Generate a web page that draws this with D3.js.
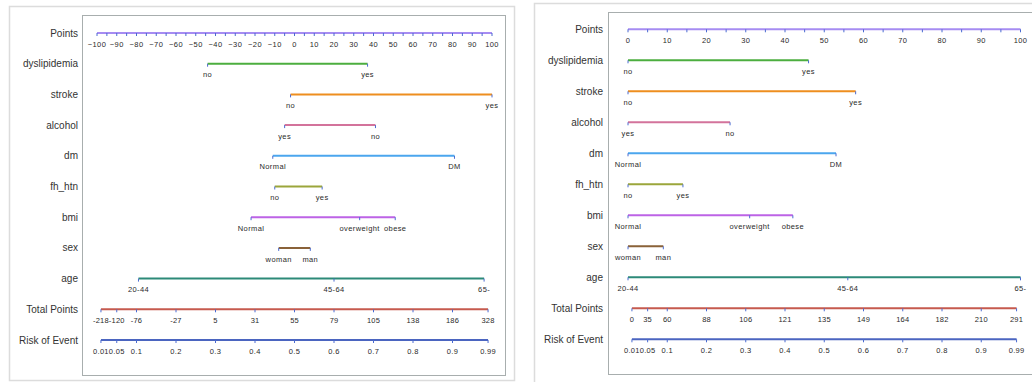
<!DOCTYPE html>
<html><head><meta charset="utf-8">
<script src="https://cdn.jsdelivr.net/npm/d3@7"></script>
<style>body{margin:0;background:#fff}svg{display:block}</style>
</head><body>
<svg id="c" width="1032" height="382"></svg>
<script>
// ---------- data ----------
const rowLabels = ["Points","dyslipidemia","stroke","alcohol","dm","fh_htn","bmi","sex","age","Total Points","Risk of Event"];
const variables = ["dyslipidemia","stroke","alcohol","dm","fh_htn","bmi","sex","age"];
const levelNames = [["no","yes"],["no","yes"],["yes","no"],["Normal","DM"],["no","yes"],["Normal","overweight","obese"],["woman","man"],["20-44","45-64","65-"]];
const leftLevelPoints  = [[-44,37],[-2,100],[-5,41],[-11,81],[-10,14],[-22,33,51],[-8,8],[-79,20,96]];
const rightLevelPoints = [[0,46],[0,58],[0,26],[0,53],[0,14],[0,31,42],[0,9],[0,56,100]];
const leftPointsDomain = [-100,100];
const rightPointsDomain = [0,100];
const riskTicks = [0.01,0.05,0.1,0.2,0.3,0.4,0.5,0.6,0.7,0.8,0.9,0.99];
const riskLabels = ["0.01","0.05","0.1","0.2","0.3","0.4","0.5","0.6","0.7","0.8","0.9","0.99"];
const leftTotalLabels  = ["-218","-120","-76","-27","5","31","55","79","105","138","186","328"];
const rightTotalLabels = ["0","35","60","88","106","121","135","149","164","182","210","291"];

// ---------- styles ----------
const lineColors = ["#a68cf2","#4cae3f","#ee8e1f","#d3739b","#4ba6ee","#9ba63b","#bd63e6","#8a6239","#2c8a78","#c65a4e","#4b65c0"];
const tickColor = "#4a6bd0";
const textColor = "#2a2a2a";

const svg = d3.select("#c");
const fmt = d => String(d).replace(/-/g, "\u2212");

function panel(cfg){
  const g = svg.append("g");
  g.append("rect").attr("x",cfg.outer[0]+0.5).attr("y",cfg.outer[1]+0.5)
    .attr("width",cfg.outer[2]).attr("height",cfg.outer[3])
    .attr("fill","none").attr("stroke","#dcdcdc").attr("stroke-width",1.5);
  g.append("rect").attr("x",cfg.inner[0]+0.5).attr("y",cfg.inner[1]+0.5)
    .attr("width",cfg.inner[2]).attr("height",cfg.inner[3])
    .attr("fill","none").attr("stroke","#a8aeae").attr("stroke-width",1);

  const y = d3.scalePoint().domain(rowLabels).range(cfg.rowRange);
  const x = d3.scaleLinear().domain(cfg.pointsDomain).range(cfg.xRange);
  const xr = d3.scaleLinear().domain([0,1]).range(cfg.xRange);

  // row labels
  g.selectAll("text.row").data(rowLabels).join("text").attr("class","row")
    .attr("x",cfg.labelX).attr("y",d=>y(d)).attr("dy","0.35em")
    .attr("text-anchor","end").attr("font-family","Liberation Sans, Arial, sans-serif")
    .attr("font-size",10).attr("fill","#333").text(d=>d);

  function drawRow(rowName, color, xs, labels, fontSize, spacing){
    const yy = y(rowName);
    const row = g.append("g");
    row.append("line").attr("x1",d3.min(xs)).attr("x2",d3.max(xs)).attr("y1",yy).attr("y2",yy)
      .attr("stroke",color).attr("stroke-width",2);
    row.selectAll("line.tk").data(xs).join("line").attr("class","tk")
      .attr("x1",d=>d).attr("x2",d=>d).attr("y1",yy).attr("y2",yy+3)
      .attr("stroke",tickColor).attr("stroke-width",1);
    row.selectAll("text").data(xs.map((d,i)=>({x:d,l:labels[i]})).filter(d=>d.l!==""))
      .join("text").attr("x",d=>d.x).attr("y",yy+11).attr("dy","0.35em")
      .attr("text-anchor","middle").attr("font-family","Liberation Sans, Arial, sans-serif")
      .attr("font-size",fontSize).attr("letter-spacing",spacing).attr("fill",textColor).text(d=>d.l);
  }

  // Points axis
  const pTicks = d3.range(cfg.pointsDomain[0], cfg.pointsDomain[1]+1, 5);
  drawRow("Points", lineColors[0], pTicks.map(x), pTicks.map(d=> d%10===0 ? fmt(d) : ""), 7.5, 0.4);

  // variables
  variables.forEach((v,i)=>{
    const pts = cfg.levelPoints[i];
    drawRow(v, lineColors[i+1], pts.map(x), levelNames[i], 7.5, 0.4);
  });

  // Total points & risk
  drawRow("Total Points", lineColors[9], riskTicks.map(xr), cfg.totalLabels, 7.5, 0.2);
  drawRow("Risk of Event", lineColors[10], riskTicks.map(xr), riskLabels, 7.5, 0.3);
}

panel({outer:[9,6,505,374], inner:[82,15,423,360], labelX:78, rowRange:[33,340],
  xRange:[97,492], pointsDomain:leftPointsDomain, levelPoints:leftLevelPoints, totalLabels:leftTotalLabels});
panel({outer:[534,3,520,400], inner:[608,12,440,362], labelX:603, rowRange:[29.3,339.3],
  xRange:[628,1020.5], pointsDomain:rightPointsDomain, levelPoints:rightLevelPoints, totalLabels:rightTotalLabels});
</script>
</body></html>
